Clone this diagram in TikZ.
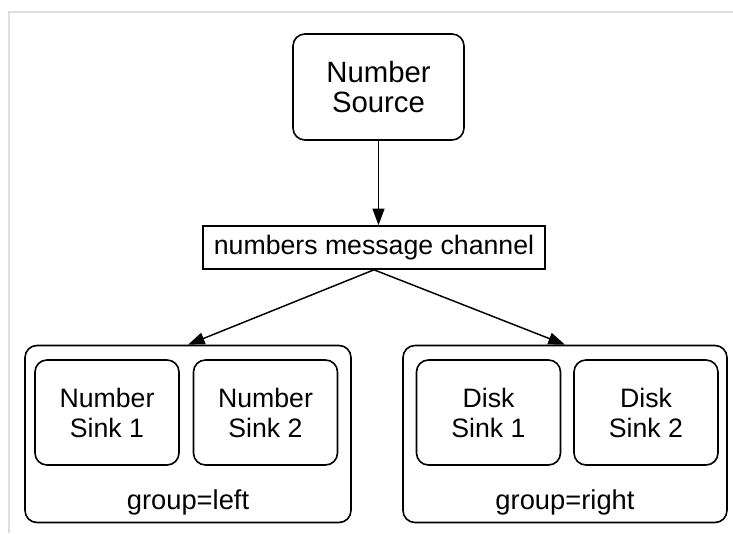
\documentclass[tikz,border=0pt]{standalone}
\usepackage{fontspec}
\setmainfont{Liberation Sans}
\usetikzlibrary{arrows.meta}

\begin{document}
\begin{tikzpicture}[x=0.75pt, y=-0.75pt,
    box/.style={draw, line width=1.2pt, rounded corners=9pt, align=center, inner sep=0pt},
    sinkbox/.style={box, minimum width=108pt, minimum height=78.75pt, font=\fontsize{20}{22.5}\selectfont},
    groupbox/.style={box, minimum height=132.75pt},
    flow/.style={line width=1.1pt, -{Triangle[length=12.5pt, width=9pt]}}]
    \useasboundingbox (0,0) rectangle (733,533);

    % Frame edges
    \draw[black!13, line width=1.5pt] (9,533) -- (9,12) -- (733,12);

    % Draw nodes
    \node[box, minimum width=128.25pt, minimum height=79.5pt, font=\fontsize{22}{22.5}\selectfont] (source) at (378.5,87) {Number\\Source};
    \node[box, rounded corners=0pt, minimum width=256.5pt, minimum height=32.25pt, font=\fontsize{20}{22.5}\selectfont] (channel) at (374,247.5) {numbers message channel};

    \node[groupbox, minimum width=244.5pt] (left) at (188,434) {};
    \node[groupbox, minimum width=243pt] (right) at (565,434) {};

    \node[sinkbox] (nsink1) at (107,412.5) {Number\\Sink 1};
    \node[sinkbox] (nsink2) at (265.5,412.5) {Number\\Sink 2};
    \node[sinkbox] (dsink1) at (488.5,412.5) {Disk\\Sink 1};
    \node[sinkbox] (dsink2) at (646,412.5) {Disk\\Sink 2};

    % Labels
    \node[anchor=base, font=\fontsize{20.5}{22.5}\selectfont] (leftlabel) at (188,509) {group=left};
    \node[anchor=base, font=\fontsize{20.5}{22.5}\selectfont] (rightlabel) at (565,509) {group=right};

    % Draw connections
    \draw[flow] (source.south) -- (source.south |- channel.north);
    \draw[flow] (channel.south) -- (left.north);
    \draw[flow] (channel.south) -- (right.north);
\end{tikzpicture}
\end{document}
